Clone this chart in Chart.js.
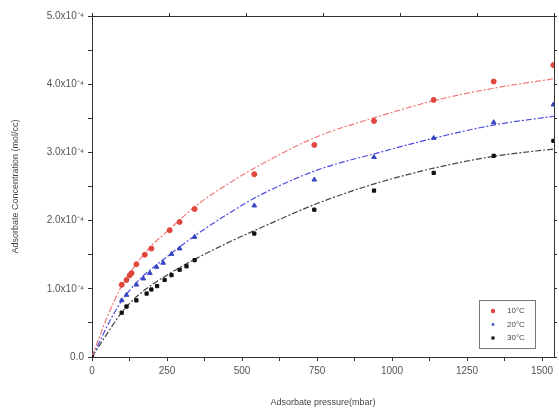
<!DOCTYPE html>
<html>
<head>
<meta charset="utf-8">
<script src="https://cdn.jsdelivr.net/npm/chart.js@4/dist/chart.umd.min.js"></script>
<style>
  html, body { margin: 0; padding: 0; background: #fff; }
  #wrap { position: relative; width: 559px; height: 412px; }
</style>
</head>
<body>
<div id="wrap"><canvas id="chart" width="559" height="412"></canvas></div>
<script>
// measured points (pressure in mbar, concentration in units of 1e-4 mol/cc)
var x10 = [99, 115, 126, 132, 148, 176, 198, 259, 292, 342, 541, 741, 940, 1139, 1339, 1538];
var y10 = [1.06, 1.13, 1.20, 1.23, 1.36, 1.50, 1.59, 1.86, 1.98, 2.17, 2.68, 3.11, 3.46, 3.77, 4.04, 4.28];

var x20 = [99, 115, 148, 171, 193, 215, 237, 265, 292, 342, 541, 741, 940, 1139, 1339, 1538];
var y20 = [0.83, 0.91, 1.06, 1.15, 1.23, 1.32, 1.38, 1.51, 1.59, 1.76, 2.22, 2.60, 2.93, 3.21, 3.44, 3.70];

var x30 = [0, 99, 115, 148, 182, 198, 217, 242, 265, 292, 315, 342, 541, 741, 940, 1139, 1339, 1538];
var y30 = [0, 0.65, 0.74, 0.83, 0.93, 0.99, 1.04, 1.13, 1.20, 1.28, 1.33, 1.42, 1.81, 2.16, 2.44, 2.70, 2.95, 3.17];

// fitted curves
var fitX = [0, 25, 50, 100, 150, 200, 250, 300, 350, 450, 550, 750, 950, 1150, 1350, 1540];
var fit10 = [0, 0.30, 0.58, 1.05, 1.38, 1.64, 1.84, 2.04, 2.23, 2.53, 2.79, 3.23, 3.52, 3.77, 3.95, 4.08];
var fit20 = [0, 0.22, 0.45, 0.83, 1.10, 1.30, 1.47, 1.64, 1.80, 2.09, 2.35, 2.74, 2.99, 3.22, 3.41, 3.53];
var fit30 = [0, 0.17, 0.34, 0.66, 0.89, 1.06, 1.20, 1.33, 1.45, 1.67, 1.87, 2.25, 2.55, 2.78, 2.95, 3.05];

var seriesNames = ["10\u00B0C", "20\u00B0C", "30\u00B0C"];
var yTicks = [0, 1, 2, 3, 4, 5];
var xTicks = [0, 250, 500, 750, 1000, 1250, 1500];

function pts(xs, ys) {
  return xs.map(function(x, i) { return { x: x, y: ys[i] }; });
}

var axisColor = '#333';
var textColor = '#555';

function fitLine(data, color) {
  return {
    type: 'line', data: pts(fitX, data), borderColor: color, borderWidth: 1.2,
    borderDash: [6, 2, 2, 2], pointRadius: 0, cubicInterpolationMode: 'monotone',
    fill: false
  };
}

var legendBox = {
  id: 'legendBox',
  afterDraw: function(chart) {
    var ctx = chart.ctx;
    var x0 = 479, y0 = 300, w = 56, h = 48;
    ctx.save();
    ctx.strokeStyle = '#777';
    ctx.lineWidth = 1;
    ctx.fillStyle = '#fff';
    ctx.fillRect(x0 + 0.5, y0 + 0.5, w, h);
    ctx.strokeRect(x0 + 0.5, y0 + 0.5, w, h);
    ctx.font = '8px "Liberation Sans", Arial, sans-serif';
    ctx.textBaseline = 'middle';
    for (var i = 0; i < 3; i++) {
      var ds = chart.data.datasets[i];
      var cy = y0 + 11 + i * 13.5;
      ctx.fillStyle = ds.backgroundColor;
      ctx.strokeStyle = ds.backgroundColor;
      Chart.helpers.drawPoint(ctx, { pointStyle: ds.pointStyle, radius: 2.2, rotation: 0 }, x0 + 14, cy);
      ctx.fillStyle = '#444';
      ctx.fillText(seriesNames[i], x0 + 28, cy);
    }
    ctx.restore();
  }
};

new Chart(document.getElementById('chart'), {
  type: 'scatter',
  data: {
    datasets: [
      { label: seriesNames[0], data: pts(x10, y10), backgroundColor: '#e0463c', borderColor: '#e0463c', pointStyle: 'circle', pointRadius: 2.5 },
      { label: seriesNames[1], data: pts(x20, y20), backgroundColor: '#3545c0', borderColor: '#3545c0', pointStyle: 'triangle', pointRadius: 2.7 },
      { label: seriesNames[2], data: pts(x30, y30), backgroundColor: '#111', borderColor: '#111', pointStyle: 'rect', pointRadius: 2.3 },
      fitLine(fit10, '#f07a78'),
      fitLine(fit20, '#4c4ce0'),
      fitLine(fit30, '#444')
    ]
  },
  options: {
    responsive: false,
    animation: false,
    layout: { padding: 0 },
    plugins: { legend: { display: false }, tooltip: { enabled: false } },
    scales: {
      x: {
        type: 'linear', position: 'bottom', min: 0, max: 1540,
        afterFit: function(s) { s.height = 55; },
        border: { color: axisColor, width: 1 },
        grid: { drawOnChartArea: false, tickLength: 4, color: axisColor },
        ticks: {
          stepSize: 125, includeBounds: false, autoSkip: false, maxRotation: 0, padding: 4,
          color: textColor, font: { family: '"Liberation Sans", Arial, sans-serif', size: 10 },
          callback: function(v) { return xTicks.indexOf(v) >= 0 ? String(v) : ''; }
        },
        title: {
          display: true, text: 'Adsorbate pressure(mbar)', color: '#444',
          font: { family: '"Liberation Sans", Arial, sans-serif', size: 9 }, padding: { top: 4 }
        }
      },
      xTop: {
        type: 'linear', position: 'top', min: 0, max: 1540,
        afterFit: function(s) { s.height = 16; },
        border: { color: axisColor, width: 1 },
        grid: { drawOnChartArea: false, tickLength: 3, color: axisColor },
        ticks: { stepSize: 250, includeBounds: false, display: false }
      },
      y: {
        type: 'linear', position: 'left', min: 0, max: 5,
        afterFit: function(s) { s.width = 92; },
        border: { color: axisColor, width: 1 },
        grid: { drawOnChartArea: false, tickLength: 4, color: axisColor },
        ticks: {
          stepSize: 0.5, autoSkip: false, padding: 4, color: textColor,
          font: { family: '"Liberation Sans", Arial, sans-serif', size: 10 },
          callback: function(v) {
            if (yTicks.indexOf(v) < 0) return '';
            return v === 0 ? '0.0' : v.toFixed(1) + 'x10\u207B\u2074';
          }
        },
        title: {
          display: true, text: 'Adsorbate Concentration (mol/cc)', color: '#444',
          font: { family: '"Liberation Sans", Arial, sans-serif', size: 9 }, padding: { top: 10, bottom: 0 }
        }
      },
      yRight: {
        type: 'linear', position: 'right', min: 0, max: 5,
        afterFit: function(s) { s.width = 4; },
        border: { color: axisColor, width: 1 },
        grid: { drawOnChartArea: false, tickLength: 3, color: axisColor },
        ticks: { stepSize: 0.5, display: false }
      }
    }
  },
  plugins: [legendBox]
});
</script>
</body>
</html>
